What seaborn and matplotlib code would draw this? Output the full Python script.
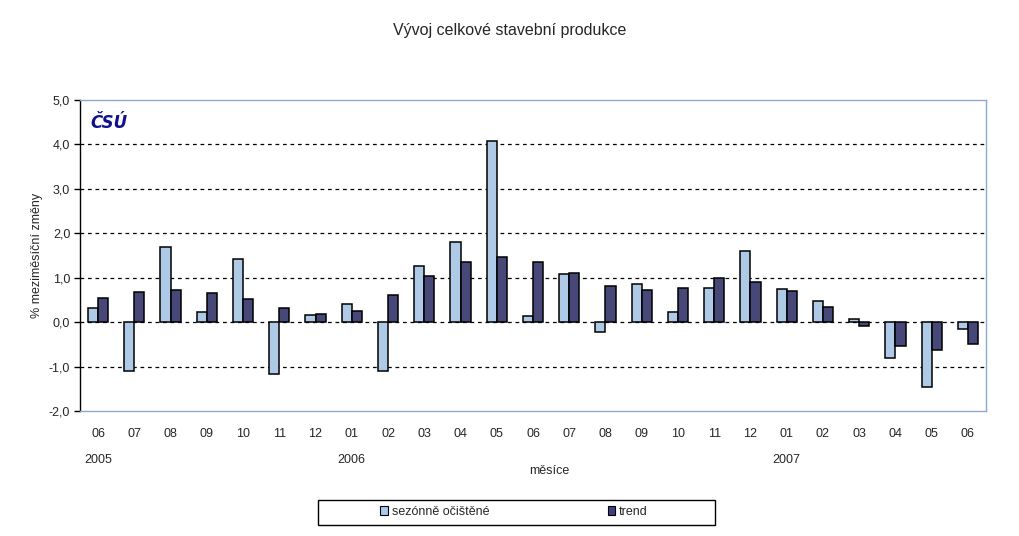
import seaborn as sns
import matplotlib.pyplot as plt
import pandas as pd
from matplotlib.ticker import FuncFormatter
from matplotlib.patches import Patch, Rectangle

# Data
months = ["06", "07", "08", "09", "10", "11", "12", "01", "02", "03", "04", "05", "06",
          "07", "08", "09", "10", "11", "12", "01", "02", "03", "04", "05", "06"]
years = {0: "2005", 7: "2006", 19: "2007"}
seasonal = [0.32, -1.10, 1.69, 0.23, 1.42, -1.17, 0.16, 0.41, -1.10, 1.26, 1.80, 4.08, 0.14,
            1.08, -0.23, 0.86, 0.23, 0.77, 1.60, 0.74, 0.47, 0.07, -0.81, -1.47, -0.16]
trend = [0.54, 0.68, 0.72, 0.65, 0.52, 0.32, 0.18, 0.25, 0.61, 1.04, 1.35, 1.47, 1.35,
         1.11, 0.81, 0.72, 0.77, 0.99, 0.90, 0.70, 0.34, -0.09, -0.54, -0.63, -0.50]
series_names = ["sezónně očištěné", "trend"]
colors = ["#A6CAF0", "#3F3F80"]

idx = [str(i) for i in range(len(months))]
df = pd.DataFrame({
    "pos": idx * 2,
    "value": seasonal + trend,
    "series": [series_names[0]] * len(months) + [series_names[1]] * len(months),
})

sns.set_style("white")
plt.rcParams['font.family'] = ['Liberation Sans', 'DejaVu Sans']

fig = plt.figure(figsize=(10.2, 5.36), dpi=100)
ax = fig.add_axes([0.0784, 0.2332, 0.8883, 0.5802])

sns.barplot(data=df, x="pos", y="value", hue="series", order=idx,
            palette=colors, width=0.56, edgecolor="black", linewidth=1.1,
            legend=False, ax=ax)

ax.set_xlim(-0.5, len(months) - 0.5)
ax.set_ylim(-2, 5)
ax.set_yticks(range(-2, 6))
ax.yaxis.set_major_formatter(FuncFormatter(lambda v, p: f"{v:.1f}".replace(".", ",")))
ax.set_xticks(range(len(months)))
ax.set_xticklabels(months, fontsize=9)
ax.tick_params(axis="x", length=0, pad=12)
ax.tick_params(axis="y", left=True, length=4, width=1, color="black", labelsize=9, pad=3)

# dashed grid lines incl. zero line
for v in range(-1, 5):
    ax.axhline(v, color="black", linestyle=(0, (3, 3)), linewidth=0.9, zorder=0.5)

for side in ["top", "right", "bottom"]:
    ax.spines[side].set_color("#8FA8C8")
    ax.spines[side].set_linewidth(1)
ax.spines["left"].set_color("black")
ax.spines["left"].set_linewidth(1)

ax.set_xlabel("")
ax.set_ylabel("% meziměsíční změny", fontsize=9, labelpad=4)

for pos, yr in years.items():
    ax.text(pos, -0.139, yr, transform=ax.get_xaxis_transform(),
            ha="center", va="top", fontsize=9)
fig.text(0.539, 0.122, "měsíce", ha="center", va="center", fontsize=9)

fig.text(0.5, 0.944, "Vývoj celkové stavební produkce", ha="center", va="center",
         fontsize=11.5)

ax.text(0.012, 0.955, "ČSÚ", transform=ax.transAxes, ha="left", va="top",
        fontsize=12, fontweight="heavy", fontstyle="italic", color="#10108C",
        family="DejaVu Sans")

# legend with a wide black box
fig.patches.append(Rectangle((318 / 1020, 1 - 525 / 536), 397 / 1020, 25 / 536,
                             transform=fig.transFigure, facecolor="white",
                             edgecolor="black", linewidth=1, zorder=1))
handles = [Patch(facecolor=c, edgecolor="black", linewidth=0.8) for c in colors]
leg = fig.legend(handles, series_names, loc="center", bbox_to_anchor=(0.504, 0.045),
                 ncol=2, fontsize=9, frameon=False,
                 handlelength=0.6, handleheight=0.8, handletextpad=0.3,
                 columnspacing=9.5)

fig.savefig("out.png", dpi=100)
